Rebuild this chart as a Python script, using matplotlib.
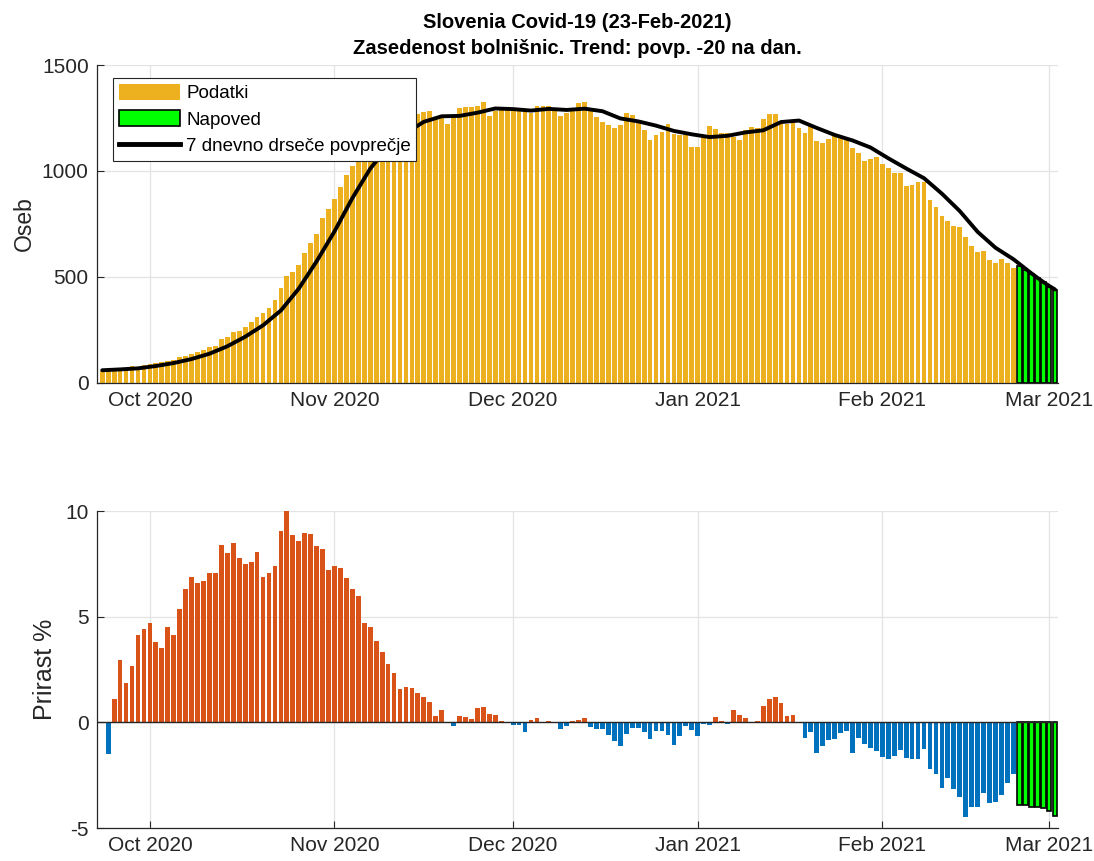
import matplotlib.pyplot as plt
import matplotlib.dates as mdates
import numpy as np
import pandas as pd
from matplotlib.patches import Patch
from matplotlib.lines import Line2D

plt.rcParams['font.family'] = ['Liberation Sans', 'DejaVu Sans']
plt.rcParams['axes.unicode_minus'] = False

# hospitalizirani (Oseb), po mesecih
hosp_sep = [58, 61, 64, 68, 72, 80, 77, 85]  # od 23. sep
hosp_oct = [88, 93, 101, 105, 110, 121, 129, 135, 145, 156, 171, 176, 209, 218, 242,
            247, 266, 289, 313, 332, 355, 391, 450, 505, 523, 558, 615, 662, 703, 780, 822]
hosp_nov = [868, 924, 981, 1023, 1069, 1085, 1126, 1142, 1170, 1192, 1206, 1197, 1222, 1261, 1269,
            1278, 1283, 1243, 1253, 1221, 1248, 1295, 1300, 1300, 1306, 1324, 1259, 1284, 1291, 1291]
hosp_dec = [1291, 1284, 1280, 1275, 1306, 1306, 1306, 1291, 1259, 1275, 1284, 1320, 1326, 1282, 1255,
            1230, 1218, 1204, 1218, 1274, 1265, 1226, 1194, 1147, 1171, 1185, 1222, 1176, 1172, 1170, 1115]
hosp_jan = [1115, 1161, 1213, 1199, 1180, 1178, 1162, 1148, 1193, 1209, 1204, 1247, 1270, 1270, 1225,
            1223, 1231, 1203, 1181, 1215, 1142, 1132, 1151, 1165, 1162, 1149, 1110, 1086, 1049, 1056, 1066]
hosp_feb = [1034, 1016, 992, 992, 929, 934, 950, 950, 865, 832, 788, 764, 742, 737, 690,
            648, 619, 624, 580, 567, 585, 567, 544]  # do 23. feb
forecast = [553, 534, 512, 495, 477, 455, 440]

# 7 dnevno povprecje, odcitano vsake 3 dni od 23. sep
trend = [60, 64, 69, 80, 94, 113, 138, 173, 218, 272, 342, 445, 574, 715, 872, 1011, 1115, 1179,
         1232, 1258, 1260, 1275, 1295, 1292, 1285, 1293, 1288, 1294, 1282, 1248, 1234, 1214, 1189,
         1173, 1160, 1166, 1182, 1192, 1231, 1238, 1203, 1170, 1144, 1111, 1060, 1012, 966, 893,
         811, 713, 638, 584]
trend_forecast = [562, 540, 518, 497, 477, 458, 441]

# prirast % (od 24. sep)
pct_sep = [-1.48, 1.09, 2.97, 1.85, 2.65, 4.15, 4.41]
pct_oct = [4.72, 3.82, 3.51, 4.53, 4.15, 5.34, 6.33, 6.90, 6.57, 6.68, 7.09, 7.05, 8.37, 7.99, 8.47,
           7.76, 7.47, 7.57, 8.04, 6.86, 7.05, 7.42, 9.04, 10.13, 8.85, 8.56, 8.94, 8.89, 8.33, 8.21, 7.19]
pct_nov = [7.38, 7.28, 6.81, 6.33, 6.00, 4.72, 4.49, 3.87, 3.35, 2.78, 2.35, 1.60, 1.69, 1.64, 1.41,
           1.22, 0.98, 0.32, 0.60, -0.02, -0.19, 0.32, 0.27, 0.17, 0.70, 0.74, 0.41, 0.36, 0.05, 0.00]
pct_dec = [-0.14, -0.14, -0.47, 0.13, 0.22, 0.00, 0.05, 0.00, -0.33, -0.19, 0.05, 0.13, 0.19, -0.24,
           -0.33, -0.33, -0.62, -0.90, -1.14, -0.57, -0.28, -0.28, -0.47, -0.80, -0.43, -0.43, -0.62,
           -1.09, -0.66, -0.19, -0.38]
pct_jan = [-0.66, -0.06, -0.14, 0.27, 0.05, -0.09, 0.60, 0.36, 0.22, 0.00, 0.08, 0.79, 1.12, 1.22,
           0.93, 0.32, 0.36, 0.00, -0.74, -0.46, -1.47, -1.14, -0.85, -0.81, -0.51, -0.41, -1.47,
           -0.76, -1.04, -1.23, -1.37]
pct_feb = [-1.66, -1.75, -1.61, -1.33, -1.71, -1.75, -1.75, -1.28, -2.23, -2.46, -3.11, -2.64, -3.16,
           -3.54, -4.49, -4.01, -4.01, -3.35, -3.82, -3.78, -3.44, -2.88, -2.46]
pct_forecast = [-3.90, -3.90, -4.00, -4.00, -4.04, -4.19, -4.42]

hosp = np.array(hosp_sep + hosp_oct + hosp_nov + hosp_dec + hosp_jan + hosp_feb)
pct = np.array(pct_sep + pct_oct + pct_nov + pct_dec + pct_jan + pct_feb)

dates = pd.date_range('2020-09-23', periods=len(hosp), freq='D')
fc_dates = pd.date_range(dates[-1] + pd.Timedelta(days=1), periods=len(forecast), freq='D')
trend_dates = pd.date_range('2020-09-23', periods=len(trend), freq='3D')
pct_dates = dates[1:]

ORANGE = '#EDB120'
RED = '#D95319'
BLUE = '#0072BD'
GREEN = '#00FF00'
DARK = '#262626'

fig = plt.figure(figsize=(10.94, 8.61), dpi=100)
ax1 = fig.add_axes([0.0887, 0.5552, 0.8784, 0.3693])
ax2 = fig.add_axes([0.0887, 0.0383, 0.8784, 0.3682])

xmin = mdates.date2num(pd.Timestamp('2020-09-22 03:00'))
xmax = mdates.date2num(pd.Timestamp('2021-03-02 12:00'))

# zgornji graf
ax1.bar(dates, hosp, width=0.8, color=ORANGE, linewidth=0)
ax1.bar(fc_dates, forecast, width=0.8, color=GREEN, edgecolor='black', linewidth=1.2)
ax1.plot(list(trend_dates) + list(fc_dates), trend + trend_forecast, color='black', linewidth=2.8,
         solid_capstyle='round', zorder=3)
ax1.set_ylim(0, 1500)
ax1.set_yticks([0, 500, 1000, 1500])
ax1.set_ylabel('Oseb', fontsize=16.5, color=DARK, labelpad=4)
ax1.set_title('Slovenia Covid-19 (23-Feb-2021)\nZasedenost bolnišnic. Trend: povp. -20 na dan.',
              fontsize=14.5, fontweight='bold', pad=8, linespacing=1.45)

handles = [Patch(facecolor=ORANGE, edgecolor='none'),
           Patch(facecolor=GREEN, edgecolor='black', linewidth=1.2),
           Line2D([0], [0], color='black', linewidth=3.5)]
leg = ax1.legend(handles, ['Podatki', 'Napoved', '7 dnevno drseče povprečje'],
                 loc='upper left', bbox_to_anchor=(0.0166, 0.959), borderaxespad=0,
                 fancybox=False, framealpha=1, edgecolor=DARK, fontsize=13.5,
                 handlelength=3.3, handleheight=0.95, handletextpad=0.3, borderpad=0.3,
                 labelspacing=0.42)
leg.get_frame().set_linewidth(0.8)

# spodnji graf
colors = [RED if v > 0 else BLUE for v in pct]
ax2.bar(pct_dates, pct, width=0.8, color=colors, linewidth=0)
ax2.bar(fc_dates, pct_forecast, width=0.8, color=GREEN, edgecolor='black', linewidth=1.2)
ax2.axhline(0, color=DARK, linewidth=1.0, zorder=3)
ax2.set_ylim(-5, 10)
ax2.set_yticks([-5, 0, 5, 10])
ax2.set_ylabel('Prirast %', fontsize=18, color=DARK, labelpad=6)

for ax in (ax1, ax2):
    ax.set_xlim(xmin, xmax)
    ax.xaxis.set_major_locator(mdates.MonthLocator())
    ax.xaxis.set_major_formatter(mdates.DateFormatter('%b %Y'))
    ax.grid(True, color='#e3e3e3', linewidth=0.9)
    ax.set_axisbelow(True)
    for s in ('top', 'right'):
        ax.spines[s].set_visible(False)
    for s in ('left', 'bottom'):
        ax.spines[s].set_color(DARK)
        ax.spines[s].set_linewidth(0.9)
    ax.tick_params(direction='in', length=5, labelsize=15, colors=DARK, pad=6)

fig.savefig('out.png', dpi=100)
